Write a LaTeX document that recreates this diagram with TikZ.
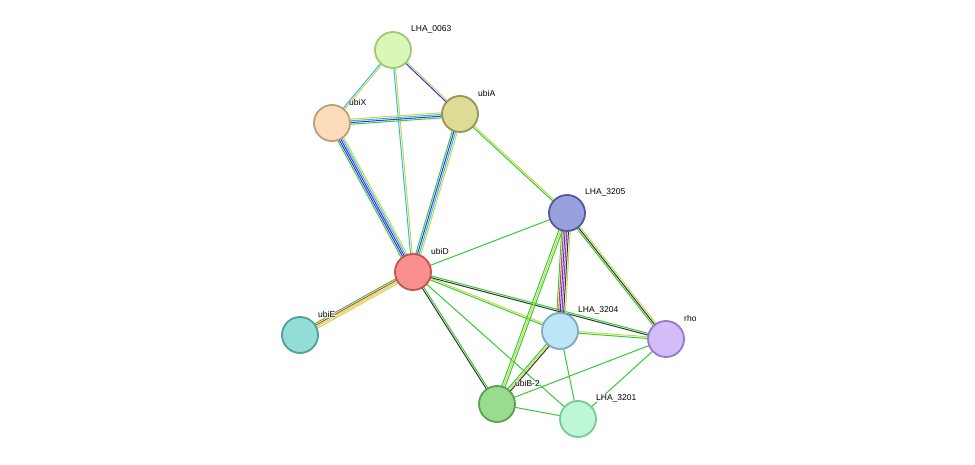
\documentclass[tikz,border=0pt]{standalone}
\usepackage{fontspec}
\setmainfont{Liberation Sans}
\usetikzlibrary{calc}
\definecolor{eg}{HTML}{33CC33}
\definecolor{ey}{HTML}{C8D84A}
\definecolor{eb}{HTML}{3333EE}
\definecolor{ec}{HTML}{33BBDD}
\definecolor{er}{HTML}{EE3333}
\definecolor{ek}{HTML}{333333}
\definecolor{em}{HTML}{AA33AA}
\newcommand\edge[4]{%
  \foreach \c [count=\i] in {#4} {%
    \pgfmathsetmacro\off{(\i-(#3+1)/2)*1.7}
    \draw[\c,line width=1pt] ($(#1.center)!\off pt!90:(#2.center)$) -- ($(#2.center)!\off pt!-90:(#1.center)$);
  }}
\tikzset{prot/.style={circle,minimum size=36pt,inner sep=0pt,line width=1.8pt},
  lab/.style={anchor=south west,font=\fontsize{8.5}{10}\selectfont,inner sep=0pt,fill=white,fill opacity=0.7,text opacity=1}}
\begin{document}
\begin{tikzpicture}[x=1pt,y=-1pt]
\useasboundingbox (0,0) rectangle (975,465);
\fill[white] (0,0) rectangle (975,465);
\coordinate (n1) at (393,50);
\coordinate (n2) at (332,123);
\coordinate (n3) at (460,114);
\coordinate (n4) at (567,213);
\coordinate (n5) at (413,272);
\coordinate (n6) at (300,335);
\coordinate (n7) at (560,331);
\coordinate (n8) at (666,339);
\coordinate (n9) at (497,404);
\coordinate (n10) at (578,419);
\edge{n1}{n2}{2}{ec,ey}
\edge{n1}{n3}{2}{eb,ey}
\edge{n1}{n5}{2}{ec,ey}
\edge{n2}{n3}{4}{eg,eb,ec,ey}
\edge{n2}{n5}{5}{eg,eb,eb,ec,ey}
\edge{n3}{n5}{4}{eg,eb,ec,ey}
\edge{n3}{n4}{2}{eg,ey}
\edge{n5}{n4}{1}{eg}
\edge{n5}{n6}{4}{eg,er,ey,ey}
\edge{n5}{n7}{2}{eg,ey}
\edge{n5}{n8}{2}{ek,eg}
\edge{n5}{n9}{2}{ek,eg}
\edge{n5}{n10}{1}{eg}
\edge{n4}{n7}{6}{eg,er,eb,em,ek,ey}
\edge{n4}{n8}{3}{eg,ek,ey}
\edge{n4}{n9}{3}{eg,ey,eg}
\edge{n7}{n8}{2}{eg,ey}
\edge{n7}{n9}{3}{eg,ey,ek}
\edge{n7}{n10}{1}{eg}
\edge{n8}{n9}{1}{eg}
\edge{n8}{n10}{1}{eg}
\edge{n9}{n10}{1}{eg}
\node[prot,fill={rgb,255:red,217;green,247;blue,183},draw={rgb,255:red,160;green,200;blue,120}] (a1) at (n1) {};
\node[prot,fill={rgb,255:red,253;green,220;blue,188},draw={rgb,255:red,190;green,160;blue,120}] (a2) at (n2) {};
\node[prot,fill={rgb,255:red,220;green,220;blue,150},draw={rgb,255:red,150;green,150;blue,80}] (a3) at (n3) {};
\node[prot,fill={rgb,255:red,152;green,161;blue,222},draw={rgb,255:red,80;green,90;blue,160}] (a4) at (n4) {};
\node[prot,fill={rgb,255:red,249;green,143;blue,143},draw={rgb,255:red,200;green,80;blue,80}] (a5) at (n5) {};
\node[prot,fill={rgb,255:red,147;green,220;blue,215},draw={rgb,255:red,80;green,160;blue,155}] (a6) at (n6) {};
\node[prot,fill={rgb,255:red,189;green,229;blue,248},draw={rgb,255:red,130;green,170;blue,190}] (a7) at (n7) {};
\node[prot,fill={rgb,255:red,211;green,189;blue,248},draw={rgb,255:red,150;green,120;blue,200}] (a8) at (n8) {};
\node[prot,fill={rgb,255:red,153;green,220;blue,143},draw={rgb,255:red,90;green,160;blue,80}] (a9) at (n9) {};
\node[prot,fill={rgb,255:red,189;green,247;blue,213},draw={rgb,255:red,120;green,200;blue,160}] (a10) at (n10) {};
\node[lab] (l1) at (411,33) {LHA\_0063};
\node[lab] (l2) at (349,106) {ubiX};
\node[lab] (l3) at (478,97) {ubiA};
\node[lab] (l4) at (585,196) {LHA\_3205};
\node[lab] (l5) at (431,255) {ubiD};
\node[lab] (l6) at (318,318) {ubiE};
\node[lab] (l7) at (578,314) {LHA\_3204};
\node[lab] (l8) at (684,322) {rho};
\node[lab] (l9) at (515,387) {ubiB-2};
\node[lab] (l10) at (596,402) {LHA\_3201};
\end{tikzpicture}
\end{document}
